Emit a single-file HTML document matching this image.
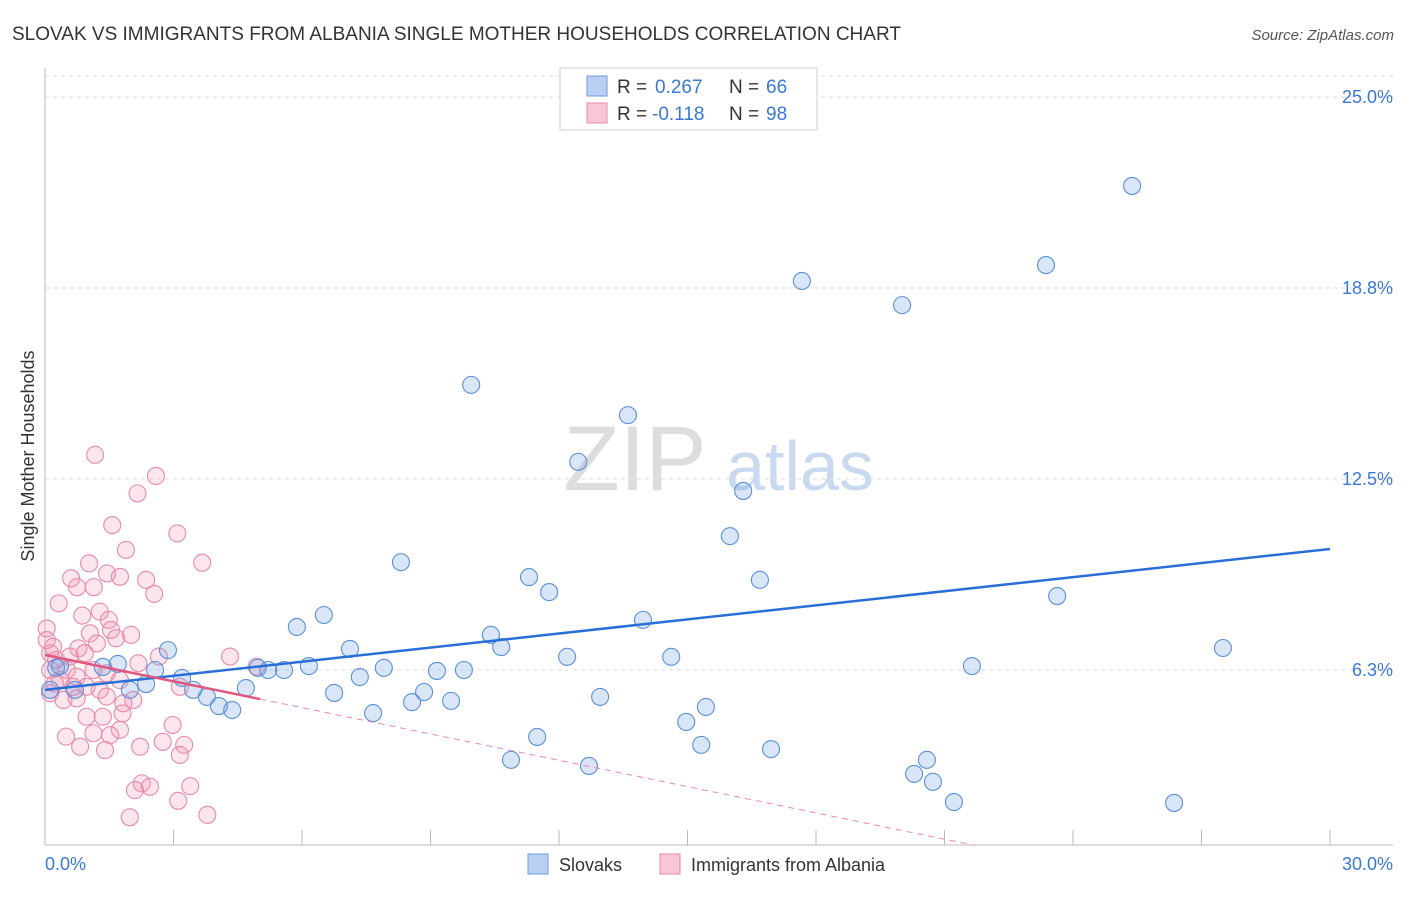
<!DOCTYPE html>
<html><head><meta charset="utf-8"><style>
body{margin:0;background:#fff;font-family:"Liberation Sans",sans-serif}
svg text{font-family:"Liberation Sans",sans-serif}
</style></head><body>
<svg id="c" width="1406" height="892">
<text x="12" y="40" font-size="19" fill="#333">SLOVAK VS IMMIGRANTS FROM ALBANIA SINGLE MOTHER HOUSEHOLDS CORRELATION CHART</text>
<text x="1394" y="40" font-size="15" fill="#555" font-style="italic" text-anchor="end">Source: ZipAtlas.com</text>
<text x="34" y="456" font-size="18" fill="#333" text-anchor="middle" transform="rotate(-90 34 456)">Single Mother Households</text>
<g><text x="635" y="490" font-size="92" font-family="Liberation Serif" fill="#ddd" text-anchor="middle">ZIP</text><text x="800" y="490" font-size="70" fill="#c9daf0" text-anchor="middle">atlas</text></g>
<g id="grid"></g><g id="axes"></g><g id="pts"></g><g id="lines"></g>
<g>
<rect x="560" y="68" width="257" height="62" fill="#fff" stroke="#ccc"/>
<rect x="587" y="76" width="20" height="20" fill="#b9d0f2" stroke="#6b9de0"/>
<rect x="587" y="103" width="20" height="20" fill="#f9c6d5" stroke="#e88aa8"/>
<text x="617" y="93" font-size="19" fill="#333">R =</text><text x="655" y="93" font-size="19" fill="#3a78d6">0.267</text>
<text x="729" y="93" font-size="19" fill="#333">N =</text><text x="766" y="93" font-size="19" fill="#3a78d6">66</text>
<text x="617" y="120" font-size="19" fill="#333">R =</text><text x="652" y="120" font-size="19" fill="#3a78d6">-0.118</text>
<text x="729" y="120" font-size="19" fill="#333">N =</text><text x="766" y="120" font-size="19" fill="#3a78d6">98</text>
</g>
<g>
<rect x="528" y="854" width="20" height="20" fill="#b9d0f2" stroke="#6b9de0"/>
<text x="559" y="871" font-size="18" fill="#333">Slovaks</text>
<rect x="660" y="854" width="20" height="20" fill="#f9c6d5" stroke="#e88aa8"/>
<text x="691" y="871" font-size="18" fill="#333">Immigrants from Albania</text>
</g>
</svg>
<script>
const blueX=[25.38,23.37,17.67,20.01,9.95,13.61,12.45,16.30,15.99,8.31,11.30,16.69,11.77,23.63,6.51,5.88,13.96,10.41,10.65,7.12,2.87,12.19,14.62,27.50,21.64,6.16,5.58,4.97,5.21,7.91,9.15,9.78,7.35,3.20,2.57,1.70,1.35,0.26,4.69,3.46,3.78,4.06,4.37,6.75,8.85,8.57,9.48,12.96,7.66,15.43,14.97,11.49,15.32,16.95,10.88,12.70,20.59,20.29,20.73,21.22,26.36,2.36,1.98,0.35,0.12,0.70];
const blueY=[22.09,19.50,18.98,18.19,15.58,14.59,13.06,12.11,10.63,9.78,9.29,9.20,8.80,8.67,8.05,7.66,7.89,7.40,7.00,6.94,6.90,6.68,6.68,6.97,6.38,6.38,6.25,6.32,6.25,6.32,6.22,6.25,6.02,5.99,6.25,6.45,6.35,6.32,5.66,5.60,5.37,5.07,4.94,5.50,5.53,5.20,5.24,5.37,4.84,5.04,4.55,4.06,3.80,3.66,3.31,3.11,3.31,2.85,2.59,1.93,1.90,5.79,5.60,6.38,5.60,5.60];
const pinkX=[1.17,2.59,2.16,1.57,3.09,1.89,1.03,3.67,0.61,1.45,1.75,0.75,1.14,2.36,2.55,0.32,0.87,1.28,1.49,1.05,1.54,1.66,2.01,1.21,0.04,0.78,0.12,0.93,2.66,4.32,2.18,0.26,0.51,0.74,1.13,1.44,1.75,0.35,0.66,0.97,1.28,0.12,0.43,0.74,1.44,1.83,2.06,3.15,1.81,0.97,1.35,2.98,1.75,0.49,0.82,1.13,1.52,1.40,2.22,2.75,3.25,3.15,2.26,2.10,2.45,3.39,3.11,3.79,1.98,0.12,0.23,0.58,4.94,0.04,0.19];
const pinkY=[13.29,12.60,12.03,10.99,10.72,10.18,9.74,9.76,9.25,9.41,9.30,8.96,8.96,9.20,8.74,8.43,8.03,8.16,7.89,7.45,7.56,7.29,7.40,7.12,7.61,6.96,6.80,6.80,6.69,6.69,6.47,6.58,6.25,6.03,6.25,6.14,5.92,5.92,5.70,5.70,5.60,5.49,5.27,5.32,5.38,5.16,5.27,5.70,4.83,4.72,4.72,4.45,4.29,4.07,3.74,4.18,4.12,3.63,3.74,3.90,3.80,3.47,2.54,2.32,2.43,2.45,1.97,1.51,1.43,6.25,5.81,6.69,6.36,7.23,7.01];
const yTicks=[6.25,12.5,18.75,25];
const yTickLabels=["6.3%","12.5%","18.8%","25.0%"];
const xTicks=[0,3,6,9,12,15,18,21,24,27,30];
const blueTrend=[5.60,0.1537];
const pinkTrend=[6.74,-0.287];
const pinkSolidEnd=5.02, pinkDashEnd=21.7;
const NS='http://www.w3.org/2000/svg';
const sx=v=>45+v*1285/30, sy=v=>861-v*191/6.25;
function mk(t,a,p){const e=document.createElementNS(NS,t);for(const k in a)e.setAttribute(k,a[k]);p.appendChild(e);return e;}
const G=document.getElementById('grid'),A=document.getElementById('axes'),P=document.getElementById('pts'),L=document.getElementById('lines');
yTicks.forEach((v,i)=>{
 const g=mk('line',{x1:45,x2:1393,y1:sy(v),y2:sy(v),stroke:'#ddd','stroke-dasharray':'4,4'},G);
 
 
 const t=mk('text',{x:1393,y:sy(v)+6,'font-size':18,fill:'#3a78d6','text-anchor':'end'},A);t.textContent=yTickLabels[i];
 
 
});
mk('line',{x1:45,x2:1393,y1:sy(25)-21,y2:sy(25)-21,stroke:'#ddd','stroke-dasharray':'4,4'},G);
mk('line',{x1:45,x2:45,y1:68,y2:845,stroke:'#bbb'},A);
mk('line',{x1:45,x2:1393,y1:845,y2:845,stroke:'#bbb'},A);
xTicks.forEach(v=>{const l=mk('line',{x1:sx(v),x2:sx(v),y1:830,y2:845,stroke:'#bbb'},A);
 
 });
let t0=mk('text',{x:45,y:870,'font-size':18,fill:'#3a78d6'},A);t0.textContent='0.0%';


let t1=mk('text',{x:1393,y:870,'font-size':18,fill:'#3a78d6','text-anchor':'end'},A);t1.textContent='30.0%';


pinkX.forEach((x,i)=>{const c=mk('circle',{cx:sx(x),cy:sy(pinkY[i]),r:8.5,fill:'rgba(244,150,180,0.25)',stroke:'#e88aa8','stroke-width':1.1},P);
 
 });
blueX.forEach((x,i)=>{const c=mk('circle',{cx:sx(x),cy:sy(blueY[i]),r:8.5,fill:'rgba(120,165,230,0.28)',stroke:'#5a8fd8','stroke-width':1.1},P);
 
 });
const bt=mk('line',{x1:sx(0),y1:sy(blueTrend[0]),x2:sx(30),y2:sy(blueTrend[0]+blueTrend[1]*30),stroke:'#2a6fd6','stroke-width':2.5},L);


const pt=mk('line',{x1:sx(0),y1:sy(pinkTrend[0]),x2:sx(pinkSolidEnd),y2:sy(pinkTrend[0]+pinkTrend[1]*pinkSolidEnd),stroke:'#e0577f','stroke-width':2.5},L);


const pd=mk('line',{x1:sx(pinkSolidEnd),y1:sy(pinkTrend[0]+pinkTrend[1]*pinkSolidEnd),x2:sx(pinkDashEnd),y2:sy(pinkTrend[0]+pinkTrend[1]*pinkDashEnd),stroke:'#e88aa8','stroke-width':1,'stroke-dasharray':'6,5'},L);


</script>
</body></html>
